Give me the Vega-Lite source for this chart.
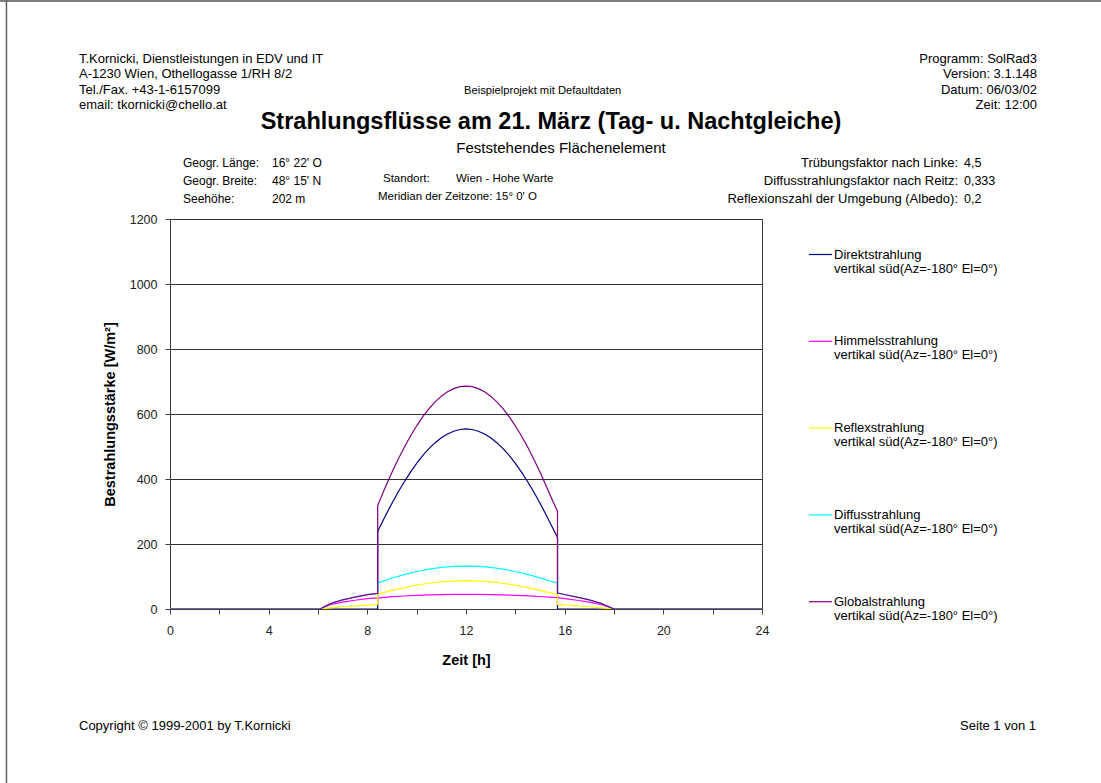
{
  "$schema": "https://vega.github.io/schema/vega-lite/v6.json",
  "autosize": {"type": "none"},
  "width": 592,
  "height": 390,
  "padding": {"left": 170, "top": 219, "right": 339, "bottom": 174},
  "background": "#ffffff",
  "config": {
    "font": "Liberation Sans",
    "view": {"stroke": "#404040", "strokeWidth": 1},
    "axis": {"labelFont": "Liberation Sans", "labelFontSize": 12.5, "labelColor": "#222222", "titleFont": "Liberation Sans", "titleFontSize": 14.5, "titleFontWeight": "bold", "titleColor": "#000000", "domainColor": "#404040", "tickColor": "#404040", "tickSize": 5}
  },
  "datasets": {
    "rad": [
      {"s": "Direktstrahlung", "i": 0, "t": 0, "v": 0},
      {"s": "Direktstrahlung", "i": 1, "t": 8.42, "v": 0},
      {"s": "Direktstrahlung", "i": 2, "t": 8.42, "v": 238},
      {"s": "Direktstrahlung", "i": 3, "t": 8.5, "v": 251.5},
      {"s": "Direktstrahlung", "i": 4, "t": 8.75, "v": 289.5},
      {"s": "Direktstrahlung", "i": 5, "t": 9, "v": 325.6},
      {"s": "Direktstrahlung", "i": 6, "t": 9.25, "v": 359.8},
      {"s": "Direktstrahlung", "i": 7, "t": 9.5, "v": 391.7},
      {"s": "Direktstrahlung", "i": 8, "t": 9.75, "v": 421.3},
      {"s": "Direktstrahlung", "i": 9, "t": 10, "v": 448.2},
      {"s": "Direktstrahlung", "i": 10, "t": 10.25, "v": 472.4},
      {"s": "Direktstrahlung", "i": 11, "t": 10.5, "v": 493.6},
      {"s": "Direktstrahlung", "i": 12, "t": 10.75, "v": 511.8},
      {"s": "Direktstrahlung", "i": 13, "t": 11, "v": 526.9},
      {"s": "Direktstrahlung", "i": 14, "t": 11.25, "v": 538.7},
      {"s": "Direktstrahlung", "i": 15, "t": 11.5, "v": 547.1},
      {"s": "Direktstrahlung", "i": 16, "t": 11.75, "v": 552.3},
      {"s": "Direktstrahlung", "i": 17, "t": 12, "v": 554},
      {"s": "Direktstrahlung", "i": 18, "t": 12.25, "v": 552.3},
      {"s": "Direktstrahlung", "i": 19, "t": 12.5, "v": 547.1},
      {"s": "Direktstrahlung", "i": 20, "t": 12.75, "v": 538.7},
      {"s": "Direktstrahlung", "i": 21, "t": 13, "v": 526.9},
      {"s": "Direktstrahlung", "i": 22, "t": 13.25, "v": 511.8},
      {"s": "Direktstrahlung", "i": 23, "t": 13.5, "v": 493.6},
      {"s": "Direktstrahlung", "i": 24, "t": 13.75, "v": 472.4},
      {"s": "Direktstrahlung", "i": 25, "t": 14, "v": 448.2},
      {"s": "Direktstrahlung", "i": 26, "t": 14.25, "v": 421.3},
      {"s": "Direktstrahlung", "i": 27, "t": 14.5, "v": 391.7},
      {"s": "Direktstrahlung", "i": 28, "t": 14.75, "v": 359.8},
      {"s": "Direktstrahlung", "i": 29, "t": 15, "v": 325.6},
      {"s": "Direktstrahlung", "i": 30, "t": 15.25, "v": 289.5},
      {"s": "Direktstrahlung", "i": 31, "t": 15.5, "v": 251.5},
      {"s": "Direktstrahlung", "i": 32, "t": 15.71, "v": 220},
      {"s": "Direktstrahlung", "i": 33, "t": 15.71, "v": 0},
      {"s": "Direktstrahlung", "i": 34, "t": 24, "v": 0},

      {"s": "Himmelsstrahlung", "i": 0, "t": 0, "v": 0},
      {"s": "Himmelsstrahlung", "i": 1, "t": 6.08, "v": 0},
      {"s": "Himmelsstrahlung", "i": 2, "t": 6.5, "v": 13},
      {"s": "Himmelsstrahlung", "i": 3, "t": 7, "v": 21},
      {"s": "Himmelsstrahlung", "i": 4, "t": 7.5, "v": 27},
      {"s": "Himmelsstrahlung", "i": 5, "t": 8, "v": 32},
      {"s": "Himmelsstrahlung", "i": 6, "t": 8.42, "v": 34},
      {"s": "Himmelsstrahlung", "i": 7, "t": 8.5, "v": 34.5},
      {"s": "Himmelsstrahlung", "i": 8, "t": 9, "v": 38},
      {"s": "Himmelsstrahlung", "i": 9, "t": 9.5, "v": 40},
      {"s": "Himmelsstrahlung", "i": 10, "t": 10, "v": 42},
      {"s": "Himmelsstrahlung", "i": 11, "t": 10.5, "v": 43.5},
      {"s": "Himmelsstrahlung", "i": 12, "t": 11, "v": 44.5},
      {"s": "Himmelsstrahlung", "i": 13, "t": 11.5, "v": 45},
      {"s": "Himmelsstrahlung", "i": 14, "t": 12, "v": 45},
      {"s": "Himmelsstrahlung", "i": 15, "t": 12.5, "v": 45},
      {"s": "Himmelsstrahlung", "i": 16, "t": 13, "v": 44.5},
      {"s": "Himmelsstrahlung", "i": 17, "t": 13.5, "v": 43.5},
      {"s": "Himmelsstrahlung", "i": 18, "t": 14, "v": 42},
      {"s": "Himmelsstrahlung", "i": 19, "t": 14.5, "v": 40.5},
      {"s": "Himmelsstrahlung", "i": 20, "t": 15, "v": 38.5},
      {"s": "Himmelsstrahlung", "i": 21, "t": 15.5, "v": 36},
      {"s": "Himmelsstrahlung", "i": 22, "t": 15.71, "v": 35},
      {"s": "Himmelsstrahlung", "i": 23, "t": 16, "v": 32},
      {"s": "Himmelsstrahlung", "i": 24, "t": 16.5, "v": 27},
      {"s": "Himmelsstrahlung", "i": 25, "t": 17, "v": 21},
      {"s": "Himmelsstrahlung", "i": 26, "t": 17.5, "v": 13},
      {"s": "Himmelsstrahlung", "i": 27, "t": 18, "v": 0},
      {"s": "Himmelsstrahlung", "i": 28, "t": 24, "v": 0},

      {"s": "Reflexstrahlung", "i": 0, "t": 0, "v": 0},
      {"s": "Reflexstrahlung", "i": 1, "t": 6.08, "v": 0},
      {"s": "Reflexstrahlung", "i": 2, "t": 6.5, "v": 3.5},
      {"s": "Reflexstrahlung", "i": 3, "t": 7, "v": 7},
      {"s": "Reflexstrahlung", "i": 4, "t": 7.5, "v": 9.5},
      {"s": "Reflexstrahlung", "i": 5, "t": 8, "v": 12},
      {"s": "Reflexstrahlung", "i": 6, "t": 8.42, "v": 14},
      {"s": "Reflexstrahlung", "i": 7, "t": 8.42, "v": 46},
      {"s": "Reflexstrahlung", "i": 8, "t": 8.5, "v": 47.5},
      {"s": "Reflexstrahlung", "i": 9, "t": 9, "v": 57.5},
      {"s": "Reflexstrahlung", "i": 10, "t": 9.5, "v": 66},
      {"s": "Reflexstrahlung", "i": 11, "t": 10, "v": 73.5},
      {"s": "Reflexstrahlung", "i": 12, "t": 10.5, "v": 79.3},
      {"s": "Reflexstrahlung", "i": 13, "t": 11, "v": 83.5},
      {"s": "Reflexstrahlung", "i": 14, "t": 11.5, "v": 86},
      {"s": "Reflexstrahlung", "i": 15, "t": 12, "v": 87},
      {"s": "Reflexstrahlung", "i": 16, "t": 12.5, "v": 86},
      {"s": "Reflexstrahlung", "i": 17, "t": 13, "v": 83.5},
      {"s": "Reflexstrahlung", "i": 18, "t": 13.5, "v": 79.3},
      {"s": "Reflexstrahlung", "i": 19, "t": 14, "v": 73.5},
      {"s": "Reflexstrahlung", "i": 20, "t": 14.5, "v": 66},
      {"s": "Reflexstrahlung", "i": 21, "t": 15, "v": 57.5},
      {"s": "Reflexstrahlung", "i": 22, "t": 15.5, "v": 48},
      {"s": "Reflexstrahlung", "i": 23, "t": 15.71, "v": 45},
      {"s": "Reflexstrahlung", "i": 24, "t": 15.71, "v": 14},
      {"s": "Reflexstrahlung", "i": 25, "t": 16, "v": 12.5},
      {"s": "Reflexstrahlung", "i": 26, "t": 16.5, "v": 9.5},
      {"s": "Reflexstrahlung", "i": 27, "t": 17, "v": 7},
      {"s": "Reflexstrahlung", "i": 28, "t": 17.5, "v": 3.5},
      {"s": "Reflexstrahlung", "i": 29, "t": 18, "v": 0},
      {"s": "Reflexstrahlung", "i": 30, "t": 24, "v": 0},

      {"s": "Diffusstrahlung", "i": 0, "t": 0, "v": 0},
      {"s": "Diffusstrahlung", "i": 1, "t": 6.08, "v": 0},
      {"s": "Diffusstrahlung", "i": 2, "t": 6.5, "v": 16.5},
      {"s": "Diffusstrahlung", "i": 3, "t": 7, "v": 28},
      {"s": "Diffusstrahlung", "i": 4, "t": 7.5, "v": 36.5},
      {"s": "Diffusstrahlung", "i": 5, "t": 8, "v": 44},
      {"s": "Diffusstrahlung", "i": 6, "t": 8.42, "v": 48},
      {"s": "Diffusstrahlung", "i": 7, "t": 8.42, "v": 80},
      {"s": "Diffusstrahlung", "i": 8, "t": 8.5, "v": 82},
      {"s": "Diffusstrahlung", "i": 9, "t": 9, "v": 95.5},
      {"s": "Diffusstrahlung", "i": 10, "t": 9.5, "v": 106},
      {"s": "Diffusstrahlung", "i": 11, "t": 10, "v": 115.5},
      {"s": "Diffusstrahlung", "i": 12, "t": 10.5, "v": 122.8},
      {"s": "Diffusstrahlung", "i": 13, "t": 11, "v": 128},
      {"s": "Diffusstrahlung", "i": 14, "t": 11.5, "v": 131},
      {"s": "Diffusstrahlung", "i": 15, "t": 12, "v": 132},
      {"s": "Diffusstrahlung", "i": 16, "t": 12.5, "v": 131},
      {"s": "Diffusstrahlung", "i": 17, "t": 13, "v": 128},
      {"s": "Diffusstrahlung", "i": 18, "t": 13.5, "v": 122.8},
      {"s": "Diffusstrahlung", "i": 19, "t": 14, "v": 115.5},
      {"s": "Diffusstrahlung", "i": 20, "t": 14.5, "v": 106.5},
      {"s": "Diffusstrahlung", "i": 21, "t": 15, "v": 96},
      {"s": "Diffusstrahlung", "i": 22, "t": 15.5, "v": 84},
      {"s": "Diffusstrahlung", "i": 23, "t": 15.71, "v": 80},
      {"s": "Diffusstrahlung", "i": 24, "t": 15.71, "v": 49},
      {"s": "Diffusstrahlung", "i": 25, "t": 16, "v": 44.5},
      {"s": "Diffusstrahlung", "i": 26, "t": 16.5, "v": 36.5},
      {"s": "Diffusstrahlung", "i": 27, "t": 17, "v": 28},
      {"s": "Diffusstrahlung", "i": 28, "t": 17.5, "v": 16.5},
      {"s": "Diffusstrahlung", "i": 29, "t": 18, "v": 0},
      {"s": "Diffusstrahlung", "i": 30, "t": 24, "v": 0},

      {"s": "Globalstrahlung", "i": 0, "t": 0, "v": 0},
      {"s": "Globalstrahlung", "i": 1, "t": 6.08, "v": 0},
      {"s": "Globalstrahlung", "i": 2, "t": 6.5, "v": 16.5},
      {"s": "Globalstrahlung", "i": 3, "t": 7, "v": 28},
      {"s": "Globalstrahlung", "i": 4, "t": 7.5, "v": 36.5},
      {"s": "Globalstrahlung", "i": 5, "t": 8, "v": 44},
      {"s": "Globalstrahlung", "i": 6, "t": 8.42, "v": 48},
      {"s": "Globalstrahlung", "i": 7, "t": 8.42, "v": 318},
      {"s": "Globalstrahlung", "i": 8, "t": 8.5, "v": 333.5},
      {"s": "Globalstrahlung", "i": 9, "t": 8.75, "v": 378.5},
      {"s": "Globalstrahlung", "i": 10, "t": 9, "v": 421.1},
      {"s": "Globalstrahlung", "i": 11, "t": 9.25, "v": 460.8},
      {"s": "Globalstrahlung", "i": 12, "t": 9.5, "v": 497.7},
      {"s": "Globalstrahlung", "i": 13, "t": 9.75, "v": 532.3},
      {"s": "Globalstrahlung", "i": 14, "t": 10, "v": 563.7},
      {"s": "Globalstrahlung", "i": 15, "t": 10.25, "v": 591.7},
      {"s": "Globalstrahlung", "i": 16, "t": 10.5, "v": 616.4},
      {"s": "Globalstrahlung", "i": 17, "t": 10.75, "v": 637.4},
      {"s": "Globalstrahlung", "i": 18, "t": 11, "v": 654.9},
      {"s": "Globalstrahlung", "i": 19, "t": 11.25, "v": 668.4},
      {"s": "Globalstrahlung", "i": 20, "t": 11.5, "v": 678.1},
      {"s": "Globalstrahlung", "i": 21, "t": 11.75, "v": 684.1},
      {"s": "Globalstrahlung", "i": 22, "t": 12, "v": 686},
      {"s": "Globalstrahlung", "i": 23, "t": 12.25, "v": 684.1},
      {"s": "Globalstrahlung", "i": 24, "t": 12.5, "v": 678.1},
      {"s": "Globalstrahlung", "i": 25, "t": 12.75, "v": 668.4},
      {"s": "Globalstrahlung", "i": 26, "t": 13, "v": 654.9},
      {"s": "Globalstrahlung", "i": 27, "t": 13.25, "v": 637.4},
      {"s": "Globalstrahlung", "i": 28, "t": 13.5, "v": 616.4},
      {"s": "Globalstrahlung", "i": 29, "t": 13.75, "v": 591.7},
      {"s": "Globalstrahlung", "i": 30, "t": 14, "v": 563.7},
      {"s": "Globalstrahlung", "i": 31, "t": 14.25, "v": 532.3},
      {"s": "Globalstrahlung", "i": 32, "t": 14.5, "v": 498.2},
      {"s": "Globalstrahlung", "i": 33, "t": 14.75, "v": 460.8},
      {"s": "Globalstrahlung", "i": 34, "t": 15, "v": 421.6},
      {"s": "Globalstrahlung", "i": 35, "t": 15.25, "v": 378.5},
      {"s": "Globalstrahlung", "i": 36, "t": 15.5, "v": 335.5},
      {"s": "Globalstrahlung", "i": 37, "t": 15.71, "v": 300},
      {"s": "Globalstrahlung", "i": 38, "t": 15.71, "v": 49},
      {"s": "Globalstrahlung", "i": 39, "t": 16, "v": 44.5},
      {"s": "Globalstrahlung", "i": 40, "t": 16.5, "v": 36.5},
      {"s": "Globalstrahlung", "i": 41, "t": 17, "v": 28},
      {"s": "Globalstrahlung", "i": 42, "t": 17.5, "v": 16.5},
      {"s": "Globalstrahlung", "i": 43, "t": 18, "v": 0},
      {"s": "Globalstrahlung", "i": 44, "t": 24, "v": 0}
    ]
  },
  "layer": [
    {
      "data": {"name": "rad"},
      "transform": [{"filter": "datum.s == 'Direktstrahlung'"}],
      "mark": {"type": "line", "strokeWidth": 1.2, "clip": true},
      "encoding": {
        "x": {"field": "t", "type": "quantitative", "scale": {"domain": [0, 24], "nice": false, "zero": false},
              "axis": {"title": "Zeit [h]", "values": [0,1,2,3,4,5,6,7,8,9,10,11,12,13,14,15,16,17,18,19,20,21,22,23,24], "labelExpr": "datum.value % 4 == 0 ? datum.label : ''", "grid": false, "labelPadding": 10, "titlePadding": 17, "labelFlush": false}},
        "y": {"field": "v", "type": "quantitative", "scale": {"domain": [0, 1200], "nice": false},
              "axis": {"title": "Bestrahlungsstärke [W/m²]", "format": "d", "values": [0,200,400,600,800,1000,1200], "grid": true, "gridColor": "#333333", "gridOpacity": 1, "labelPadding": 8, "titlePadding": 12, "labelFlush": false}},
        "color": {"field": "s", "type": "nominal",
                  "scale": {"domain": ["Direktstrahlung", "Himmelsstrahlung", "Reflexstrahlung", "Diffusstrahlung", "Globalstrahlung"], "range": ["#000080", "#FF00FF", "#FFFF00", "#00FFFF", "#800080"]},
                  "legend": {"title": null, "orient": "none", "legendX": 638, "legendY": 23, "symbolType": "stroke", "symbolSize": 529, "symbolStrokeWidth": 1.2, "labelFontSize": 13, "labelColor": "#000000", "labelLimit": 300, "labelOffset": 1, "rowPadding": 52.8,
                             "labelExpr": "[datum.label, 'vertikal süd(Az=-180° El=0°)']",
                             "encode": {"labels": {"update": {"lineHeight": {"value": 14}}}}}},
        "order": {"field": "i", "type": "quantitative"}
      }
    },
    {
      "data": {"name": "rad"},
      "transform": [{"filter": "datum.s == 'Himmelsstrahlung'"}],
      "mark": {"type": "line", "strokeWidth": 1.2, "clip": true},
      "encoding": {
        "x": {"field": "t", "type": "quantitative"},
        "y": {"field": "v", "type": "quantitative"},
        "color": {"field": "s", "type": "nominal"},
        "order": {"field": "i", "type": "quantitative"}
      }
    },
    {
      "data": {"name": "rad"},
      "transform": [{"filter": "datum.s == 'Reflexstrahlung'"}],
      "mark": {"type": "line", "strokeWidth": 1.2, "clip": true},
      "encoding": {
        "x": {"field": "t", "type": "quantitative"},
        "y": {"field": "v", "type": "quantitative"},
        "color": {"field": "s", "type": "nominal"},
        "order": {"field": "i", "type": "quantitative"}
      }
    },
    {
      "data": {"name": "rad"},
      "transform": [{"filter": "datum.s == 'Diffusstrahlung'"}],
      "mark": {"type": "line", "strokeWidth": 1.2, "clip": true},
      "encoding": {
        "x": {"field": "t", "type": "quantitative"},
        "y": {"field": "v", "type": "quantitative"},
        "color": {"field": "s", "type": "nominal"},
        "order": {"field": "i", "type": "quantitative"}
      }
    },
    {
      "data": {"name": "rad"},
      "transform": [{"filter": "datum.s == 'Globalstrahlung'"}],
      "mark": {"type": "line", "strokeWidth": 1.2, "clip": true},
      "encoding": {
        "x": {"field": "t", "type": "quantitative"},
        "y": {"field": "v", "type": "quantitative"},
        "color": {"field": "s", "type": "nominal"},
        "order": {"field": "i", "type": "quantitative"}
      }
    },
    {
      "data": {"values": [{}]},
      "mark": {"type": "rule", "color": "#808080", "strokeWidth": 3},
      "encoding": {"x": {"datum": -6.9}, "x2": {"datum": 37.8}, "y": {"datum": 1872}}
    },
    {
      "data": {"values": [{}]},
      "mark": {"type": "rule", "color": "#606060", "strokeWidth": 1.5},
      "encoding": {"x": {"datum": -6.63}, "y": {"datum": 1874}, "y2": {"datum": -535}}
    },
    {
      "data": {"values": [{}]},
      "mark": {"type": "text", "align": "left", "baseline": "middle", "fontSize": 13, "lineHeight": 15.3, "color": "#000000"},
      "encoding": {"x": {"datum": -3.689}, "y": {"datum": 1692.3},
                   "text": {"value": ["T.Kornicki, Dienstleistungen in EDV und IT", "A-1230 Wien, Othellogasse 1/RH 8/2", "Tel./Fax. +43-1-6157099", "email: tkornicki@chello.at"]}}
    },
    {
      "data": {"values": [{}]},
      "mark": {"type": "text", "align": "right", "baseline": "middle", "fontSize": 13, "lineHeight": 15.3, "color": "#000000"},
      "encoding": {"x": {"datum": 35.149}, "y": {"datum": 1692.3},
                   "text": {"value": ["Programm: SolRad3", "Version: 3.1.148", "Datum: 06/03/02", "Zeit: 12:00"]}}
    },
    {
      "data": {"values": [{}]},
      "mark": {"type": "text", "align": "left", "baseline": "middle", "fontSize": 11.2, "color": "#000000"},
      "encoding": {"x": {"datum": 11.919}, "y": {"datum": 1593.8}, "text": {"value": "Beispielprojekt mit Defaultdaten"}}
    },
    {
      "data": {"values": [{}]},
      "mark": {"type": "text", "align": "center", "baseline": "middle", "fontSize": 23.5, "fontWeight": "bold", "color": "#000000"},
      "encoding": {"x": {"datum": 15.446}, "y": {"datum": 1498.5}, "text": {"value": "Strahlungsflüsse am 21. März (Tag- u. Nachtgleiche)"}}
    },
    {
      "data": {"values": [{}]},
      "mark": {"type": "text", "align": "center", "baseline": "middle", "fontSize": 15, "color": "#000000"},
      "encoding": {"x": {"datum": 15.851}, "y": {"datum": 1418.5}, "text": {"value": "Feststehendes Flächenelement"}}
    },
    {
      "data": {"values": [{}]},
      "mark": {"type": "text", "align": "left", "baseline": "middle", "fontSize": 12, "lineHeight": 18, "color": "#000000"},
      "encoding": {"x": {"datum": 0.527}, "y": {"datum": 1372.3}, "text": {"value": ["Geogr. Länge:", "Geogr. Breite:", "Seehöhe:"]}}
    },
    {
      "data": {"values": [{}]},
      "mark": {"type": "text", "align": "left", "baseline": "middle", "fontSize": 12, "lineHeight": 18, "color": "#000000"},
      "encoding": {"x": {"datum": 4.135}, "y": {"datum": 1372.3}, "text": {"value": ["16° 22' O", "48° 15' N", "202 m"]}}
    },
    {
      "data": {"values": [{}]},
      "mark": {"type": "text", "align": "left", "baseline": "middle", "fontSize": 11.5, "color": "#000000"},
      "encoding": {"x": {"datum": 8.635}, "y": {"datum": 1323.1}, "text": {"value": "Standort:"}}
    },
    {
      "data": {"values": [{}]},
      "mark": {"type": "text", "align": "left", "baseline": "middle", "fontSize": 11.5, "color": "#000000"},
      "encoding": {"x": {"datum": 11.595}, "y": {"datum": 1323.1}, "text": {"value": "Wien - Hohe Warte"}}
    },
    {
      "data": {"values": [{}]},
      "mark": {"type": "text", "align": "left", "baseline": "middle", "fontSize": 11.5, "color": "#000000"},
      "encoding": {"x": {"datum": 8.432}, "y": {"datum": 1267.7}, "text": {"value": "Meridian der Zeitzone:  15° 0' O"}}
    },
    {
      "data": {"values": [{}]},
      "mark": {"type": "text", "align": "right", "baseline": "middle", "fontSize": 13, "lineHeight": 18, "color": "#000000"},
      "encoding": {"x": {"datum": 31.946}, "y": {"datum": 1372.3}, "text": {"value": ["Trübungsfaktor nach Linke:", "Diffusstrahlungsfaktor nach Reitz:", "Reflexionszahl der Umgebung (Albedo):"]}}
    },
    {
      "data": {"values": [{}]},
      "mark": {"type": "text", "align": "left", "baseline": "middle", "fontSize": 12.5, "lineHeight": 18, "color": "#000000"},
      "encoding": {"x": {"datum": 32.189}, "y": {"datum": 1372.3}, "text": {"value": ["4,5", "0,333", "0,2"]}}
    },
    {
      "data": {"values": [{}]},
      "mark": {"type": "text", "align": "left", "baseline": "middle", "fontSize": 13, "color": "#000000"},
      "encoding": {"x": {"datum": -3.689}, "y": {"datum": -360}, "text": {"value": "Copyright © 1999-2001 by T.Kornicki"}}
    },
    {
      "data": {"values": [{}]},
      "mark": {"type": "text", "align": "right", "baseline": "middle", "fontSize": 13, "color": "#000000"},
      "encoding": {"x": {"datum": 35.108}, "y": {"datum": -360}, "text": {"value": "Seite 1 von 1"}}
    }
  ]
}
